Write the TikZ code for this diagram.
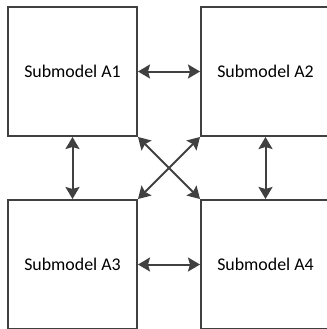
\documentclass[tikz,border=0pt]{standalone}
\usepackage{fontspec}
\setmainfont{Carlito}
\usetikzlibrary{arrows.meta}

\begin{document}
\begin{tikzpicture}[x=0.75pt, y=-0.75pt,
  submodel/.style={draw=black!75, line width=1.5pt, minimum width=96.75pt, minimum height=96.75pt, font=\fontsize{13.4}{16}\selectfont, inner sep=0pt},
  link/.style={draw=black!75, line width=1.5pt, {Stealth[length=9pt,width=10.5pt,inset=1.5pt]}-{Stealth[length=9pt,width=10.5pt,inset=1.5pt]}}]

\useasboundingbox (0,0) rectangle (327,329);

\node[submodel] (a1) at (72.5,71.5)  {Submodel A1};
\node[submodel] (a2) at (265.5,71.5) {Submodel A2};
\node[submodel] (a3) at (72.5,264.5) {Submodel A3};
\node[submodel] (a4) at (265.5,264.5) {Submodel A4};

\draw[link] (a1) -- (a2);
\draw[link] (a3) -- (a4);
\draw[link] (a1) -- (a3);
\draw[link] (a2) -- (a4);
\draw[link] (a1.south east) -- (a4.north west);
\draw[link] (a2.south west) -- (a3.north east);

\end{tikzpicture}
\end{document}
